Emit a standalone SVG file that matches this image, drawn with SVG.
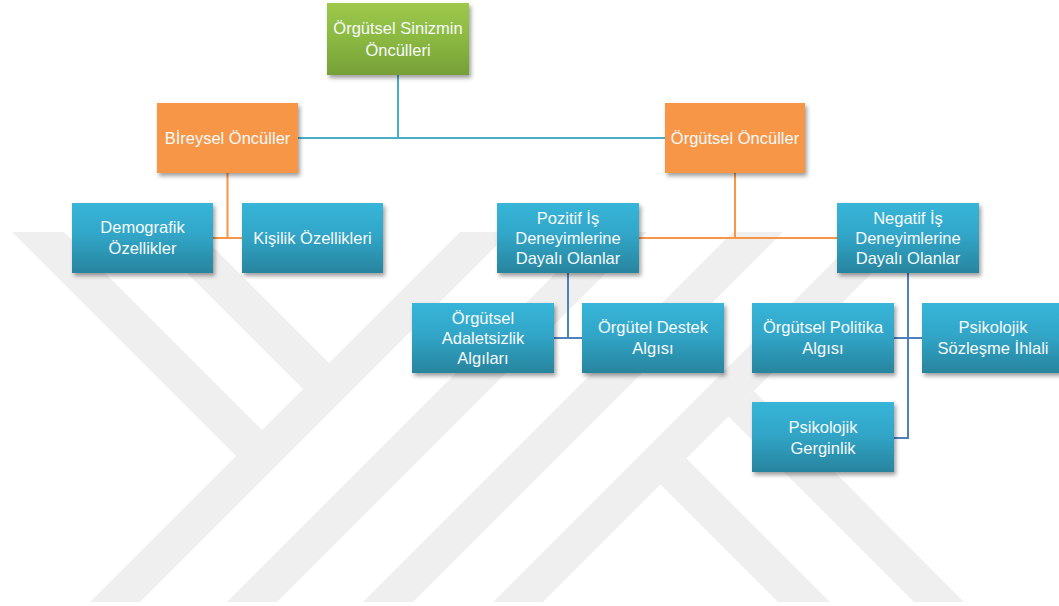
<svg xmlns="http://www.w3.org/2000/svg" width="1059" height="606" viewBox="0 0 1059 606">
  <defs>
    <linearGradient id="gBlue" x1="0" y1="0" x2="0" y2="1">
      <stop offset="0" stop-color="#37b5d8"/>
      <stop offset="0.45" stop-color="#31a6c8"/>
      <stop offset="1" stop-color="#28849e"/>
    </linearGradient>
    <linearGradient id="gGreen" x1="0" y1="0" x2="0" y2="1">
      <stop offset="0" stop-color="#9dc84b"/>
      <stop offset="0.5" stop-color="#8ab841"/>
      <stop offset="1" stop-color="#76a037"/>
    </linearGradient>
    <filter id="sh" x="-10%" y="-10%" width="125%" height="135%">
      <feDropShadow dx="2" dy="3" stdDeviation="2.2" flood-color="#000" flood-opacity="0.38"/>
    </filter>
  </defs>
  <style>
    .box { filter: url(#sh); }
    .blue { fill: url(#gBlue); }
    .green { fill: url(#gGreen); }
    .orange { fill: #f79646; }
    .lbl { font-family: "Liberation Sans", Arial, sans-serif; font-size: 16.5px; fill: #f6fafb; text-anchor: middle; }
    .wm { fill: #efefef; }
    .c-top { stroke: #4bacc6; stroke-width: 2; fill: none; }
    .c-org { stroke: #f79646; stroke-width: 2; fill: none; }
    .c-sub { stroke: #4f81bd; stroke-width: 2; fill: none; }
  </style>

  <rect width="1059" height="606" fill="#ffffff"/>

  <!-- pale striped emblem in the background -->
  <g id="emblem">
    <polygon class="wm" points="460,232 510,232 140,602 90,602"/>
    <polygon class="wm" points="597,232 647,232 277,602 227,602"/>
    <polygon class="wm" points="733,232 783,232 413,602 363,602"/>
    <polygon class="wm" points="863,232 913,232 543,602 493,602"/>
    <polygon class="wm" points="12,232 64,232 263,431 236,456"/>
    <polygon class="wm" points="146,232 198,232 330,364 303,389"/>
    <polygon class="wm" points="660,484 686,458 830,602 778,602"/>
    <polygon class="wm" points="728,416 754,391 964,602 914,602"/>
  </g>

  <!-- connectors -->
  <g id="connectors">
    <path class="c-top" d="M398 75 V138 M298 138 H665"/>
    <path class="c-org" d="M227.5 173 V238 M213 238 H242 M735 173 V238 M639 238 H837"/>
    <path class="c-sub" d="M568 273 V338 M554 338 H582 M908 273 V438 H894 M894 338 H922"/>
  </g>

  <g id="n-root">
    <rect class="box green" x="327" y="3" width="142" height="72"/>
    <text class="lbl" x="398" y="34">Örgütsel Sinizmin</text>
    <text class="lbl" x="398" y="56">Öncülleri</text>
  </g>

  <g id="n-bireysel">
    <rect class="box orange" x="157" y="103" width="141" height="70"/>
    <text class="lbl" x="227.5" y="144">Bİreysel Öncüller</text>
  </g>

  <g id="n-orgutsel">
    <rect class="box orange" x="665" y="103" width="140" height="70"/>
    <text class="lbl" x="735" y="144">Örgütsel Öncüller</text>
  </g>

  <g id="n-demografik">
    <rect class="box blue" x="72" y="203" width="141" height="70"/>
    <text class="lbl" x="142.5" y="233">Demografik</text>
    <text class="lbl" x="142.5" y="254">Özellikler</text>
  </g>

  <g id="n-kisilik">
    <rect class="box blue" x="242" y="203" width="141" height="70"/>
    <text class="lbl" x="312.5" y="244">Kişilik Özellikleri</text>
  </g>

  <g id="n-pozitif">
    <rect class="box blue" x="497" y="203" width="142" height="70"/>
    <text class="lbl" x="568" y="224">Pozitif İş</text>
    <text class="lbl" x="568" y="244">Deneyimlerine</text>
    <text class="lbl" x="568" y="264">Dayalı Olanlar</text>
  </g>

  <g id="n-negatif">
    <rect class="box blue" x="837" y="203" width="142" height="70"/>
    <text class="lbl" x="908" y="224">Negatif İş</text>
    <text class="lbl" x="908" y="244">Deneyimlerine</text>
    <text class="lbl" x="908" y="264">Dayalı Olanlar</text>
  </g>

  <g id="n-adaletsizlik">
    <rect class="box blue" x="412" y="303" width="142" height="70"/>
    <text class="lbl" x="483" y="324">Örgütsel</text>
    <text class="lbl" x="483" y="344">Adaletsizlik</text>
    <text class="lbl" x="483" y="364">Algıları</text>
  </g>

  <g id="n-destek">
    <rect class="box blue" x="582" y="303" width="142" height="70"/>
    <text class="lbl" x="653" y="333">Örgütel Destek</text>
    <text class="lbl" x="653" y="354">Algısı</text>
  </g>

  <g id="n-politika">
    <rect class="box blue" x="752" y="303" width="142" height="70"/>
    <text class="lbl" x="823" y="333">Örgütsel Politika</text>
    <text class="lbl" x="823" y="354">Algısı</text>
  </g>

  <g id="n-sozlesme">
    <rect class="box blue" x="922" y="303" width="142" height="70"/>
    <text class="lbl" x="993" y="333">Psikolojik</text>
    <text class="lbl" x="993" y="354">Sözleşme İhlali</text>
  </g>

  <g id="n-gerginlik">
    <rect class="box blue" x="752" y="402" width="142" height="70"/>
    <text class="lbl" x="823" y="433">Psikolojik</text>
    <text class="lbl" x="823" y="454">Gerginlik</text>
  </g>
</svg>
